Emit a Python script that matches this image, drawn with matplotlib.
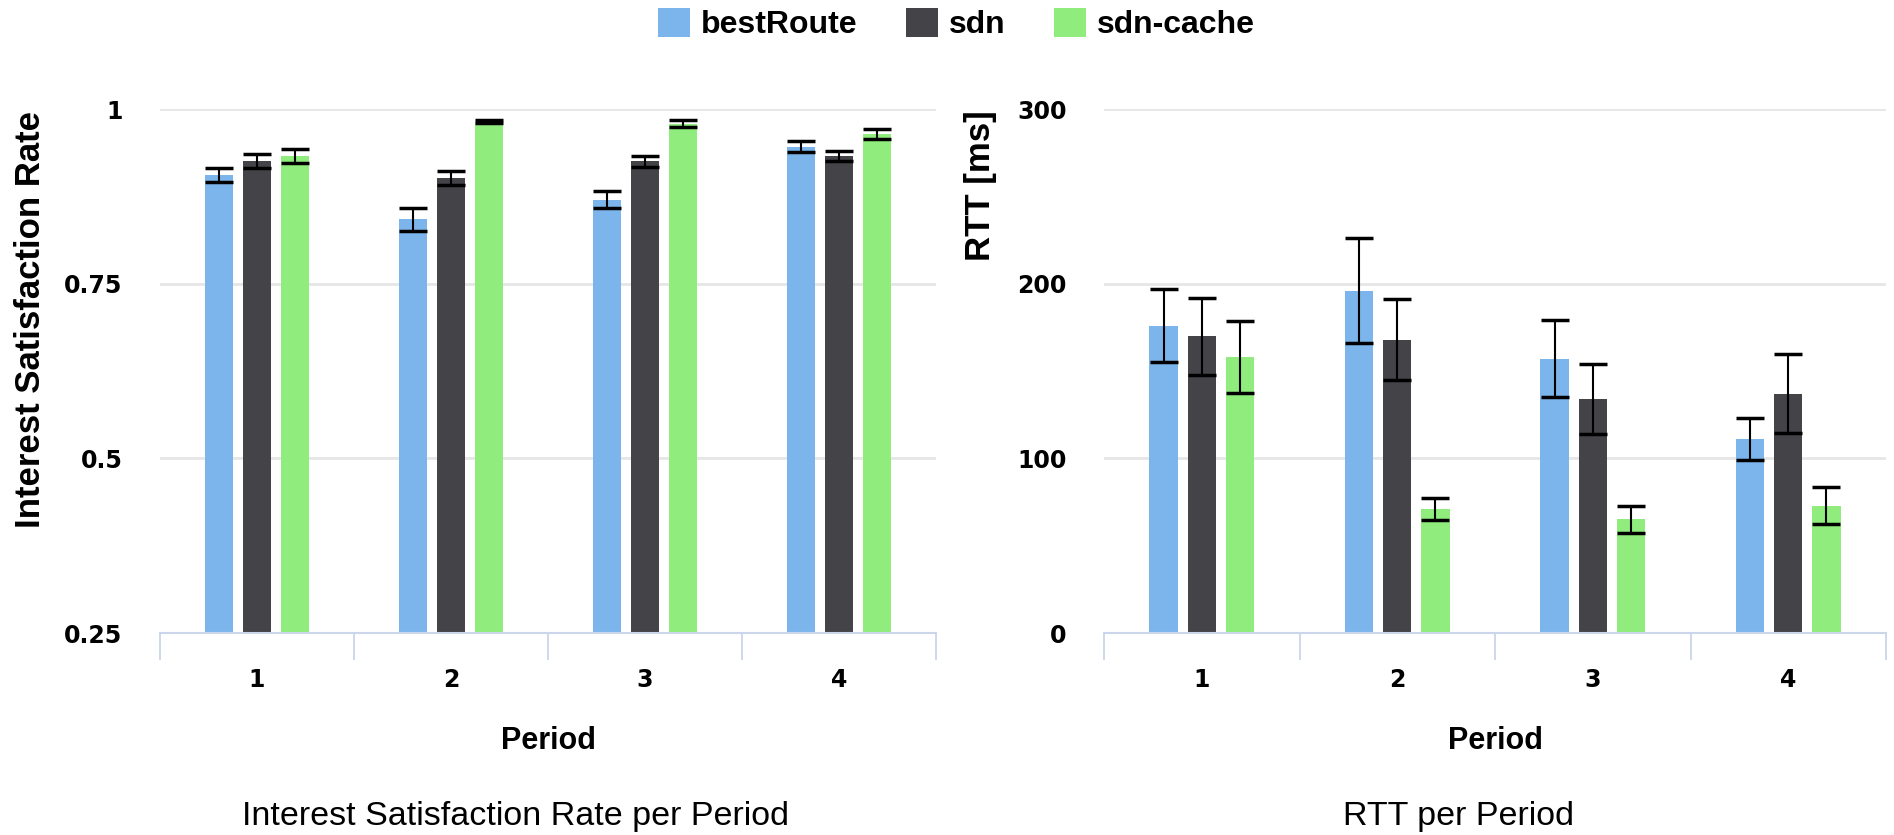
import numpy as np
import matplotlib
matplotlib.use('Agg')
import matplotlib.pyplot as plt
from matplotlib.patches import Patch

# Messwerte je Periode
periods = ['1', '2', '3', '4']
series = ['bestRoute', 'sdn', 'sdn-cache']
colors = ['#7cb5ec', '#434348', '#90ed7d']

isr_best = [0.906, 0.842, 0.870, 0.946]
isr_best_err = [0.010, 0.016, 0.012, 0.008]
isr_sdn = [0.925, 0.902, 0.925, 0.933]
isr_sdn_err = [0.010, 0.010, 0.008, 0.007]
isr_cache = [0.933, 0.982, 0.979, 0.964]
isr_cache_err = [0.010, 0.002, 0.005, 0.007]

rtt_best = [176, 196, 157, 111]
rtt_best_err = [21, 30, 22, 12]
rtt_sdn = [170, 168, 134, 137]
rtt_sdn_err = [22, 23, 20, 22.5]
rtt_cache = [158, 71, 65, 73]
rtt_cache_err = [20.5, 6.5, 7.5, 10.5]

isr_ticks = [0.25, 0.5, 0.75, 1]
isr_ticklabels = ['0.25', '0.5', '0.75', '1']
rtt_ticks = [0, 100, 200, 300]

grid_col = '#e6e6e6'
axis_col = '#ccd6eb'
tick_font = dict(family='DejaVu Sans', weight='bold', size=17)

fig = plt.figure(figsize=(18.94, 8.35), dpi=100)
ax1 = fig.add_axes([0.0845, 0.2419, 0.4097, 0.6275])
ax2 = fig.add_axes([0.5829, 0.2419, 0.4129, 0.6275])


def draw(ax, values, errors, ylim, yticks, yticklabels, ylabel, label_x):
    x = np.arange(len(periods))
    width = 0.145
    step = 0.195
    for i, (vals, errs) in enumerate(zip(values, errors)):
        pos = x + (i - 1) * step
        ax.bar(pos, vals, width=width, color=colors[i], zorder=2)
        ax.errorbar(pos, vals, yerr=errs, fmt='none', ecolor='black',
                    elinewidth=1.5, capsize=10, capthick=2.5, zorder=3)
    ax.set_xlim(-0.5, len(periods) - 0.5)
    ax.set_ylim(*ylim)
    ax.set_yticks(yticks)
    ax.set_yticklabels(yticklabels, fontdict=tick_font)
    ax.set_xticks(x)
    ax.set_xticklabels(periods, fontdict=tick_font)
    ax.set_xticks(np.arange(-0.5, len(periods)), minor=True)
    ax.tick_params(axis='y', length=0, pad=27)
    ax.tick_params(axis='x', which='major', length=0, pad=25)
    ax.tick_params(axis='x', which='minor', length=19.5, width=1.3,
                   color=axis_col)
    ax.yaxis.grid(True, color=grid_col, linewidth=2)
    ax.set_axisbelow(True)
    for s in ['top', 'right', 'left']:
        ax.spines[s].set_visible(False)
    ax.spines['bottom'].set_color(axis_col)
    ax.spines['bottom'].set_linewidth(1.5)
    ax.spines['bottom'].set_zorder(4)
    ax.set_xlabel('Period', family='Liberation Sans', weight='bold',
                  size=22)
    ax.xaxis.set_label_coords(0.5, -0.177)
    ax.text(label_x, 0.997, ylabel, transform=ax.transAxes, rotation=90,
            ha='center', va='top', family='Liberation Sans',
            weight='bold', size=25)


draw(ax1, [isr_best, isr_sdn, isr_cache],
     [isr_best_err, isr_sdn_err, isr_cache_err],
     (0.25, 1.0), isr_ticks, isr_ticklabels,
     'Interest Satisfaction Rate', -0.167)
draw(ax2, [rtt_best, rtt_sdn, rtt_cache],
     [rtt_best_err, rtt_sdn_err, rtt_cache_err],
     (0, 300), rtt_ticks, [str(t) for t in rtt_ticks],
     'RTT [ms]', -0.158)

handles = [Patch(facecolor=c, edgecolor='none') for c in colors]
fig.legend(handles, series, loc='center', bbox_to_anchor=(0.505, 0.971),
           ncol=3, frameon=False, handlelength=1.0, handleheight=1.0,
           handletextpad=0.35, columnspacing=1.5,
           prop=dict(family='Liberation Sans', weight='bold', size=23))

fig.text(0.272, 0.012, 'Interest Satisfaction Rate per Period',
         ha='center', va='baseline', family='Liberation Sans', size=24.5)
fig.text(0.7698, 0.012, 'RTT per Period',
         ha='center', va='baseline', family='Liberation Sans', size=24.5)

fig.savefig('out.png', dpi=100)
